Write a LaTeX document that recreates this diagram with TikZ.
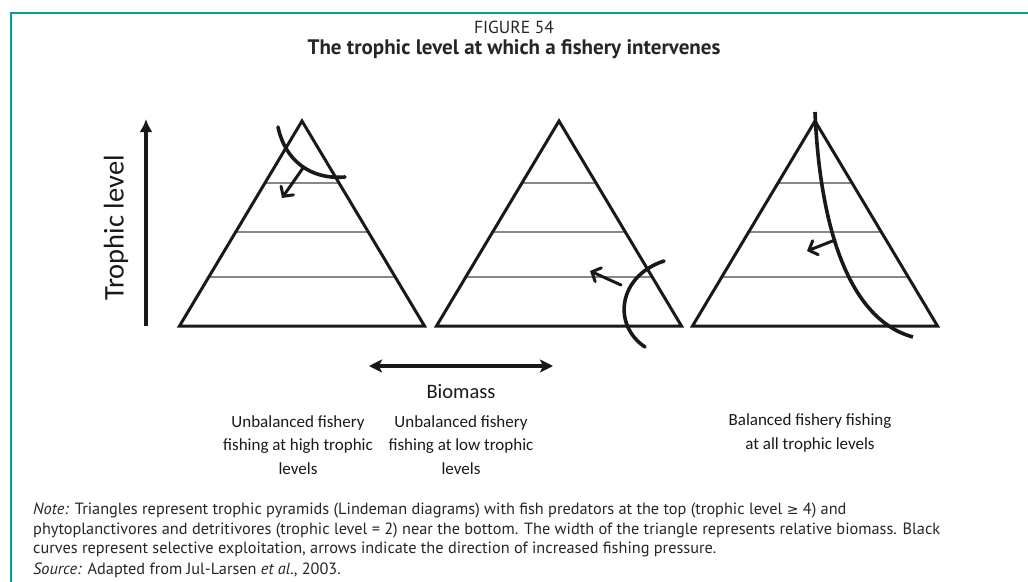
\documentclass[tikz,border=0pt]{standalone}
\usepackage{fontspec}
\setmainfont{PT Sans}
\newfontfamily\labfont{Carlito}
\newfontfamily\symfont{DejaVu Sans}
\usetikzlibrary{arrows.meta}
\definecolor{frameteal}{RGB}{0,160,150}
\definecolor{levelgray}{RGB}{135,135,135}
\definecolor{ink}{RGB}{25,25,25}
\begin{document}
\begin{tikzpicture}[x=1pt,y=-1pt,
  tri/.style={line width=3pt,line join=miter,draw=ink},
  levelline/.style={line width=2pt,draw=levelgray},
  fishcurve/.style={line width=3.6pt,draw=ink,line cap=round},
  pressure/.style={line width=3pt,draw=ink,line cap=round,-{Straight Barb[length=7pt,width=15pt,line cap=round]}},
  axisarrow/.style={line width=4pt,draw=ink,-{Latex[length=13pt,width=13pt]}},
  biomassarrow/.style={line width=4pt,draw=ink,{Stealth[length=13pt,width=13pt,inset=3pt]}-{Stealth[length=13pt,width=13pt,inset=3pt]}},
  lab/.style={font=\labfont\fontsize{17}{23.5}\selectfont,align=center,text=ink,inner sep=0pt},
  notetext/.style={font=\fontsize{16.3}{19.5}\selectfont,anchor=west,inner sep=0pt,text=black!85}
]
\useasboundingbox (0,0) rectangle (1028,581);
\clip (0,0) rectangle (1028,581);
% frame
\draw[frameteal,line width=1.6pt] (11,582) -- (11,13) -- (1030,13);
% title
\node[font=\fontsize{17.5}{19}\selectfont,inner sep=0pt,text=black!85] (fig) at (514,27) {FIGURE 54};
\node[font=\bfseries\fontsize{21}{23}\selectfont,inner sep=0pt,text=black!85] (title) at (514,49) {The trophic level at which a fishery intervenes};
% pyramids
\foreach \c in {302,559,815}{
  \draw[levelline] ({\c-37.1},183) -- ({\c+37.1},183);
  \draw[levelline] ({\c-66.3},232) -- ({\c+66.3},232);
  \draw[levelline] ({\c-93.2},277) -- ({\c+93.2},277);
  \draw[tri] ({\c-122.5},326) -- (\c,121) -- ({\c+122.5},326) -- cycle;
}
% selective exploitation curves
\draw[fishcurve] (278,127) .. controls (285,160) and (310,180) .. (345,177);
\draw[fishcurve] (664,261) .. controls (618,276) and (612,325) .. (645,347);
\draw[fishcurve,line cap=butt] (815,112) .. controls (820,230) and (850,320) .. (913,337);
% fishing pressure arrows
\coordinate (a1s) at (303,168); \coordinate (a1e) at (282,198);
\coordinate (a2s) at (621,285); \coordinate (a2e) at (590,271);
\coordinate (a3s) at (835,240); \coordinate (a3e) at (807,251);
\draw[pressure] (a1s) -- (a1e);
\draw[pressure] (a2s) -- (a2e);
\draw[pressure] (a3s) -- (a3e);
% trophic level axis
\coordinate (tlow) at (146,326);
\coordinate (thigh) at (146,119);
\draw[axisarrow] (tlow) -- (thigh);
\node[font=\labfont\fontsize{28.5}{30}\selectfont,rotate=90,inner sep=0pt,text=ink] (tl) at (116,228) {Trophic level};
% biomass axis
\coordinate (bl) at (369,366);
\coordinate (br) at (553,366);
\draw[biomassarrow] (bl) -- (br);
\node[font=\labfont\fontsize{20.5}{22}\selectfont,inner sep=0pt,text=ink] (bio) at (461,392) {Biomass};
% labels
\node[lab] (l1) at (298,445) {Unbalanced fishery\\fishing at high trophic\\levels};
\node[lab] (l2) at (461,445) {Unbalanced fishery\\fishing at low trophic\\levels};
\node[lab] (l3) at (810,433) {Balanced fishery fishing\\at all trophic levels};
% note
\node[notetext] (n1) at (33,510) {\textit{Note:} Triangles represent trophic pyramids (Lindeman diagrams) with fish predators at the top (trophic level {\symfont\fontsize{14}{15}\selectfont ≥} 4) and};
\node[notetext] (n2) at (33,530) {phytoplanctivores and detritivores (trophic level = 2) near the bottom. The width of the triangle represents relative biomass. Black};
\node[notetext] (n3) at (33,549) {curves represent selective exploitation, arrows indicate the direction of increased fishing pressure.};
\node[notetext] (n4) at (33,570) {\textit{Source:} Adapted from Jul-Larsen \textit{et al.}, 2003.};
\end{tikzpicture}
\end{document}
